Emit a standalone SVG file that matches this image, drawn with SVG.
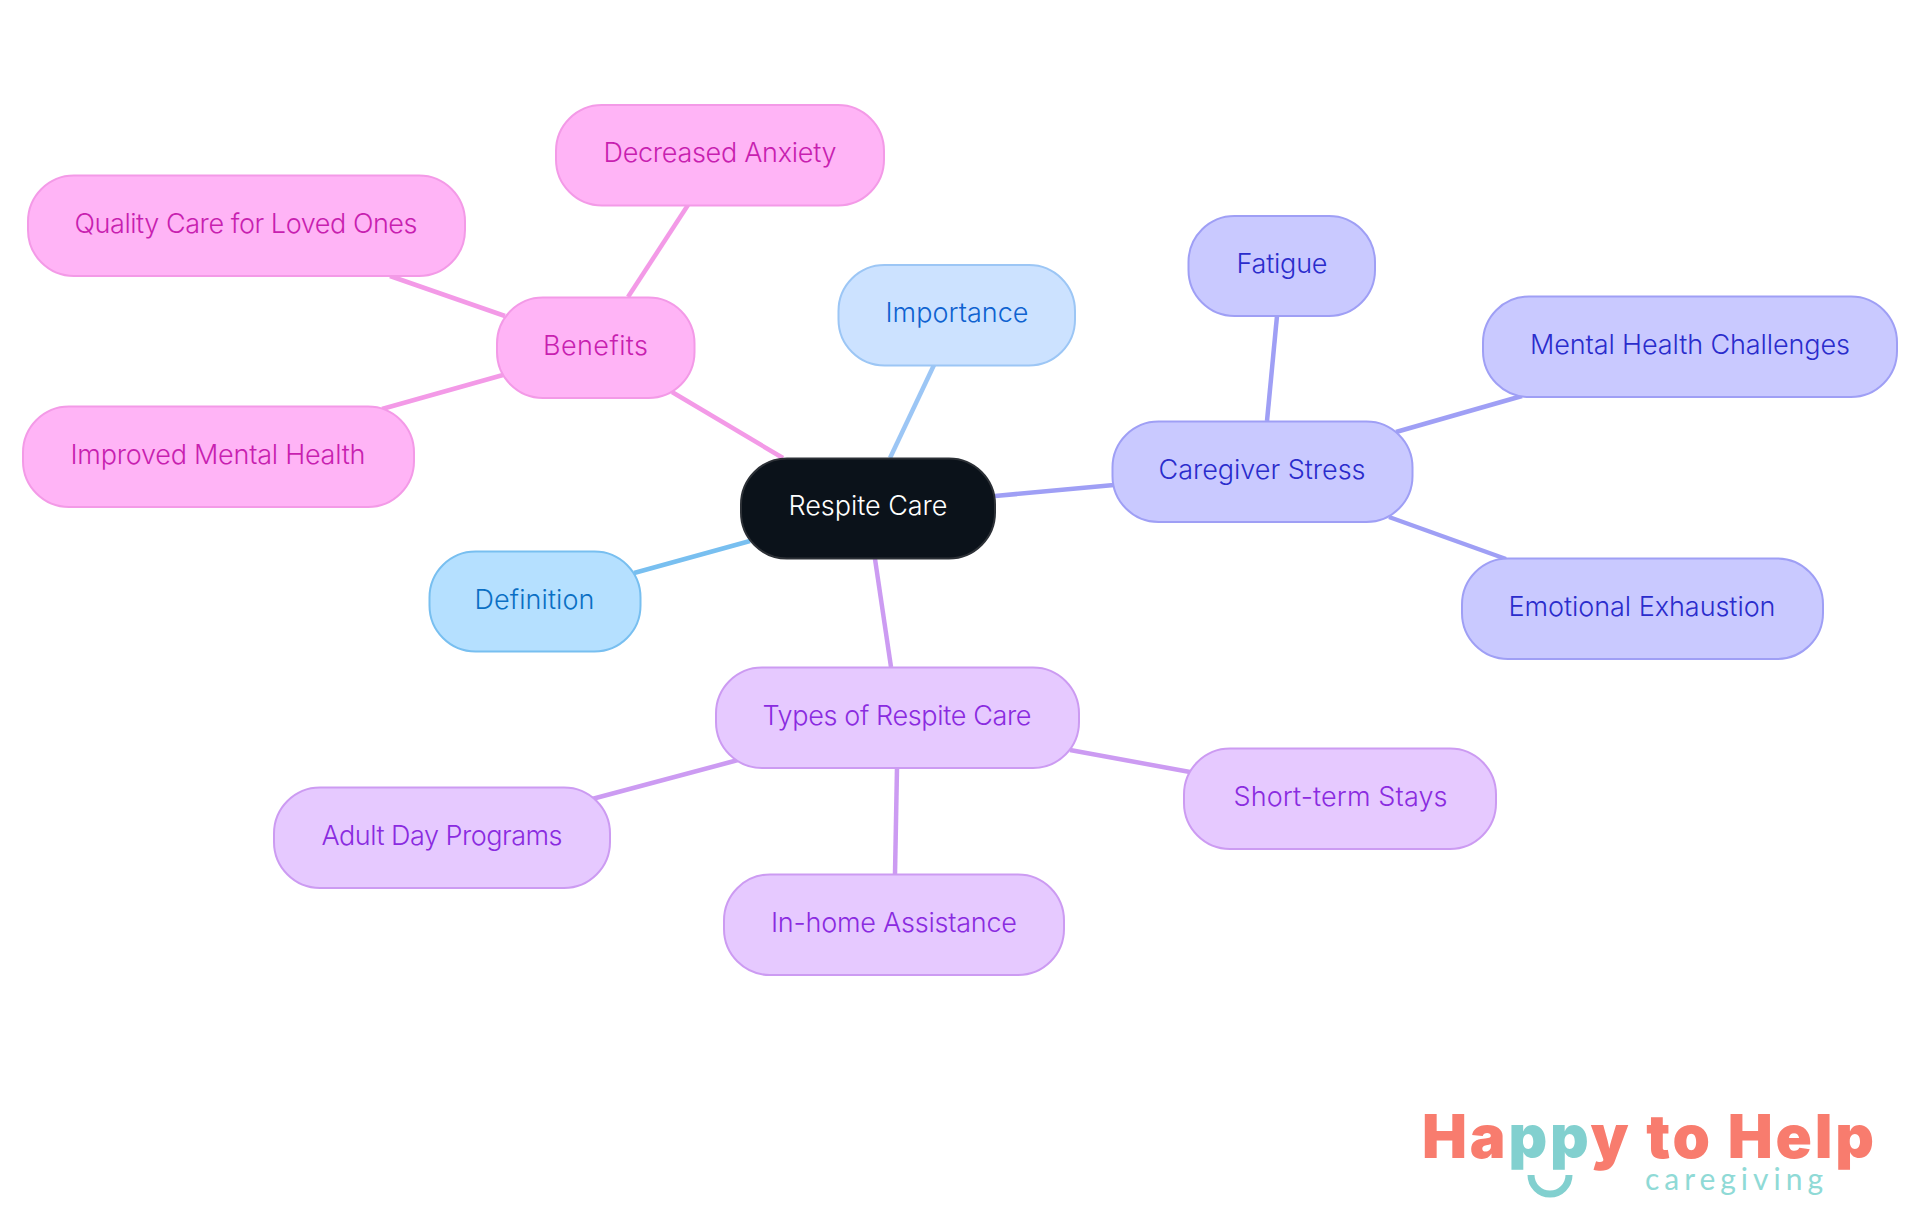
<svg xmlns="http://www.w3.org/2000/svg" width="1920" height="1215" viewBox="0 0 1920 1215">
<style>
text{font-family:Inter,"Noto Sans","Liberation Sans",sans-serif;font-size:27px;text-anchor:middle;font-weight:350}
.n{stroke-width:2}
#connectors line{stroke-width:4.5;fill:none}
.pk rect{fill:#ffb4f6;stroke:#f39ae7}.pk text{fill:#c81fb0}
.lb rect{fill:#cce2ff;stroke:#9cc6f5}.lb text{fill:#0f62d0}
.sb rect{fill:#b5e0ff;stroke:#78bff0}.sb text{fill:#0a6fc4}
.in rect{fill:#c9c9ff;stroke:#9f9ff5}.in text{fill:#2a2ccc}
.pu rect{fill:#e6c9ff;stroke:#cc9bf2}.pu text{fill:#8a2be0}
#logo .big{font-weight:900;font-size:60px;text-anchor:start}
#logo .small{font-family:Lato,"Noto Sans",sans-serif;font-size:30px;fill:#8fdad6;font-weight:400;text-anchor:start}
</style>
<rect width="1920" height="1215" fill="#fff"/>
<g id="connectors">
<line x1="783" y1="458" x2="672" y2="392" stroke="#f39ae7"/>
<line x1="628" y1="297" x2="688" y2="205" stroke="#f39ae7"/>
<line x1="505" y1="316" x2="390" y2="276" stroke="#f39ae7"/>
<line x1="503" y1="375" x2="382" y2="409" stroke="#f39ae7"/>
<line x1="890" y1="458" x2="934" y2="365" stroke="#9cc6f5"/>
<line x1="750" y1="541" x2="634" y2="573" stroke="#78bff0"/>
<line x1="995" y1="496" x2="1114" y2="485" stroke="#9f9ff5"/>
<line x1="1267" y1="421" x2="1277" y2="316" stroke="#9f9ff5"/>
<line x1="1396" y1="432" x2="1522" y2="396" stroke="#9f9ff5"/>
<line x1="1389" y1="517" x2="1506" y2="559" stroke="#9f9ff5"/>
<line x1="875" y1="559" x2="891" y2="667" stroke="#cc9bf2"/>
<line x1="1070" y1="750" x2="1190" y2="772" stroke="#cc9bf2"/>
<line x1="738" y1="760" x2="592" y2="799" stroke="#cc9bf2"/>
<line x1="897" y1="768" x2="895" y2="874" stroke="#cc9bf2"/>
</g>
<g id="root"><rect x="741" y="458.5" width="254" height="100" rx="46" fill="#0b121a" stroke="#2c3036" stroke-width="2"/><text x="868" y="514.5" fill="#fff" textLength="159">Respite Care</text></g>
<g id="benefits" class="pk"><rect class="n" x="497" y="297.5" width="197.5" height="100.5" rx="46"/><text x="595.5" y="355" textLength="105">Benefits</text></g>
<g id="decreased-anxiety" class="pk"><rect class="n" x="556" y="105" width="328" height="100.5" rx="46"/><text x="720" y="162" textLength="233">Decreased Anxiety</text></g>
<g id="quality-care" class="pk"><rect class="n" x="28" y="175.5" width="437" height="100.5" rx="46"/><text x="246" y="233" textLength="343">Quality Care for Loved Ones</text></g>
<g id="improved-mental-health" class="pk"><rect class="n" x="23" y="406.5" width="391" height="100.5" rx="46"/><text x="218" y="464" textLength="295">Improved Mental Health</text></g>
<g id="definition" class="sb"><rect class="n" x="429.5" y="551.5" width="211" height="100" rx="46"/><text x="534.5" y="608.5" textLength="120">Definition</text></g>
<g id="importance" class="lb"><rect class="n" x="838.5" y="265" width="236.5" height="100.5" rx="46"/><text x="957" y="322" textLength="143">Importance</text></g>
<g id="caregiver-stress" class="in"><rect class="n" x="1112.5" y="421.5" width="300" height="100.5" rx="46"/><text x="1262" y="478.5" textLength="207">Caregiver Stress</text></g>
<g id="fatigue" class="in"><rect class="n" x="1188.5" y="216" width="186.5" height="100" rx="46"/><text x="1282" y="273" textLength="91">Fatigue</text></g>
<g id="mental-health-challenges" class="in"><rect class="n" x="1483" y="296.5" width="414" height="100.5" rx="46"/><text x="1690" y="354" textLength="320">Mental Health Challenges</text></g>
<g id="emotional-exhaustion" class="in"><rect class="n" x="1462" y="558.5" width="361" height="100.5" rx="46"/><text x="1642" y="616" textLength="267">Emotional Exhaustion</text></g>
<g id="types" class="pu"><rect class="n" x="716" y="667.5" width="363" height="100.5" rx="46"/><text x="897" y="725" textLength="269">Types of Respite Care</text></g>
<g id="short-term-stays" class="pu"><rect class="n" x="1184" y="748.5" width="312" height="100.5" rx="46"/><text x="1340.5" y="806" textLength="214">Short-term Stays</text></g>
<g id="adult-day-programs" class="pu"><rect class="n" x="274" y="787.5" width="336" height="100.5" rx="46"/><text x="442" y="845" textLength="241">Adult Day Programs</text></g>
<g id="in-home-assistance" class="pu"><rect class="n" x="724" y="874.5" width="340" height="100.5" rx="46"/><text x="894" y="932" textLength="246">In-home Assistance</text></g>
<g id="logo">
<text class="big" x="1422" y="1158" textLength="452"><tspan fill="#f87c6e">Ha</tspan><tspan fill="#82d0cf">pp</tspan><tspan fill="#f87c6e">y to Help</tspan></text>
<path d="M1531 1175a19 19 0 0 0 38 0" fill="none" stroke="#82d0cf" stroke-width="7"/>
<text class="small" x="1645" y="1190" textLength="178">caregiving</text>
</g>
</svg>
